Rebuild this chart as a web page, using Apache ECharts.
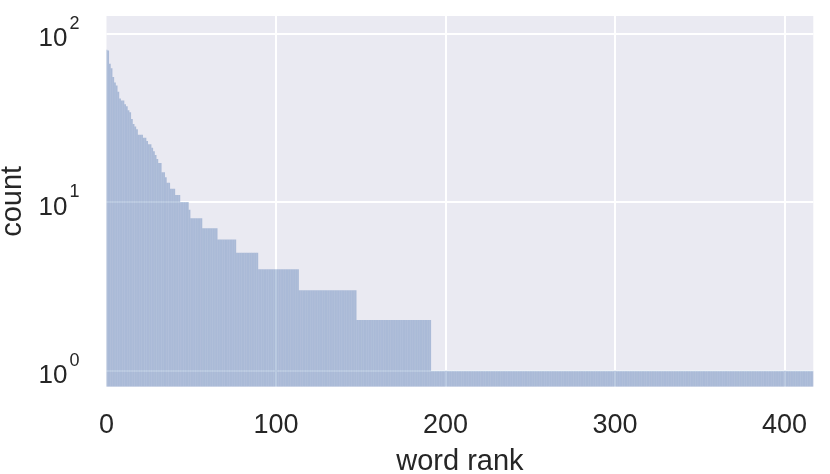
<!DOCTYPE html>
<html>
<head>
<meta charset="utf-8">
<script src="https://cdn.jsdelivr.net/npm/echarts@6/dist/echarts.min.js"></script>
<style>
  html, body { margin: 0; padding: 0; background: #ffffff; }
  #chart { width: 830px; height: 474px; }
</style>
</head>
<body>
<div id="chart"></div>
<script>
// Counts for the most frequent words, rank 0 .. 43 (read one by one)
const headCounts = [
  80, 79, 66, 62, 55, 51, 49, 45, 41, 40,
  40, 38, 37, 35, 34, 31, 29, 28, 27, 25,
  25, 25, 24, 24, 23, 22, 22, 21, 20, 19,
  18, 17, 17, 15, 15, 14, 13, 13, 12, 12,
  12, 11, 11, 11
];
// Plateaus that follow: count value and how many ranks share it
const plateauCounts = [10, 9, 8, 7, 6, 5, 4, 3, 2, 1];
const plateauLengths = [5, 1, 7, 9, 11, 13, 24, 34, 44, 226];

// Axis ticks / extent
const xTicks = [0, 100, 200, 300, 400];
const xMax = 417;
const yTickPowers = [0, 1, 2];

const counts = headCounts.slice();
plateauCounts.forEach((c, k) => {
  for (let j = 0; j < plateauLengths[k]; j++) counts.push(c);
});
const barData = counts.map((c, i) => [i, c]);

const TEXT = '#262626';
const FONT = 'Liberation Sans, Arial, sans-serif';

const chart = echarts.init(document.getElementById('chart'), null, { renderer: 'canvas' });
chart.setOption({
  animation: false,
  backgroundColor: '#ffffff',
  grid: {
    left: 106.5, right: 16.7, top: 16, bottom: 87.3,
    show: true, backgroundColor: '#eaeaf2', borderWidth: 0,
    containLabel: false,
    outerBoundsMode: 'none'
  },
  xAxis: {
    type: 'value',
    min: 0, max: xMax, interval: 100,
    axisLine: { show: false }, axisTick: { show: false },
    splitLine: { show: true, showMinLine: false, showMaxLine: false,
      lineStyle: { color: '#ffffff', width: 2 } },
    axisLabel: {
      margin: 25, fontSize: 27, color: TEXT, fontFamily: FONT,
      showMaxLabel: false,
      formatter: v => (xTicks.indexOf(v) >= 0 ? String(v) : '')
    },
    name: 'word rank', nameLocation: 'middle', nameGap: 61,
    nameTextStyle: { fontSize: 29, color: TEXT, fontFamily: FONT }
  },
  yAxis: {
    type: 'log', logBase: 10,
    min: 0.804, max: 126.6,
    axisLine: { show: false }, axisTick: { show: false },
    splitLine: { show: true, showMinLine: false, showMaxLine: false,
      lineStyle: { color: '#ffffff', width: 2 } },
    axisLabel: {
      margin: 27, color: TEXT, fontFamily: FONT,
      showMinLabel: false, showMaxLabel: false,
      formatter: v => {
        const p = Math.log10(v);
        const r = Math.round(p);
        if (Math.abs(p - r) > 1e-6 || yTickPowers.indexOf(r) < 0) return '';
        return '{b|10}{s|' + r + '}';
      },
      rich: {
        b: { fontSize: 26, lineHeight: 26, verticalAlign: 'bottom', color: TEXT, fontFamily: FONT },
        s: { fontSize: 18, lineHeight: 37, verticalAlign: 'top', padding: [0, 0, 0, 2], color: TEXT, fontFamily: FONT }
      }
    },
    name: 'count', nameLocation: 'middle', nameGap: 78,
    nameTextStyle: { fontSize: 29, color: TEXT, fontFamily: FONT }
  },
  series: [{
    type: 'custom',
    data: barData,
    encode: { x: 0, y: 1 },
    clip: true,
    renderItem: (params, api) => {
      const x = api.value(0);
      const c = api.value(1);
      const p0 = api.coord([x - 0.5, c]);
      const p1 = api.coord([x + 0.5, c]);
      const cs = params.coordSys;
      const left = Math.max(p0[0], cs.x);
      const right = Math.min(p1[0], cs.x + cs.width);
      const bottom = cs.y + cs.height;
      return {
        type: 'rect',
        shape: { x: left, y: p0[1], width: right - left, height: bottom - p0[1] },
        style: { fill: 'rgba(76,114,176,0.4)' }
      };
    }
  }]
});
</script>
</body>
</html>
